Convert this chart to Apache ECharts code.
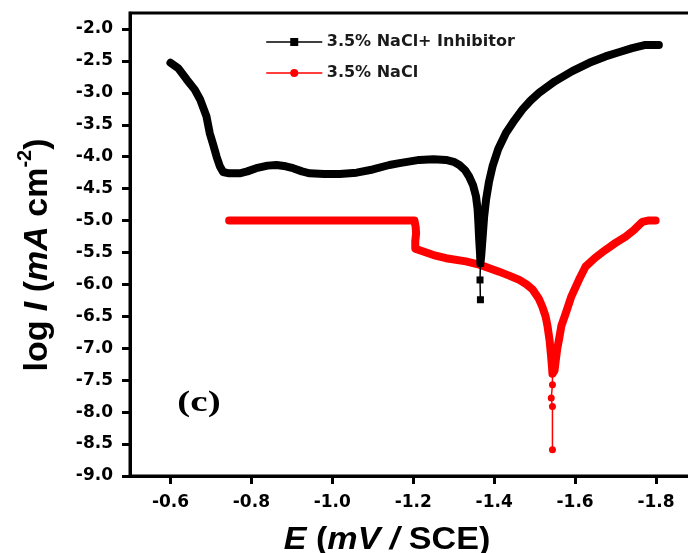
<!DOCTYPE html>
<html>
<head>
<meta charset="utf-8">
<script src="https://cdn.jsdelivr.net/npm/echarts@6/dist/echarts.min.js"></script>
<style>
html,body{margin:0;padding:0;background:#fff;}
#chart{width:688px;height:553px;}
</style>
</head>
<body>
<div id="chart"></div>
<script>
// ---- data (E in V vs SCE, log I) ----
const seriesNames = ['3.5% NaCl+ Inhibitor', '3.5% NaCl'];
const xTicks = [-0.6, -0.8, -1.0, -1.2, -1.4, -1.6, -1.8];
const yTicks = [-9.0, -8.5, -8.0, -7.5, -7.0, -6.5, -6.0, -5.5, -5.0, -4.5, -4.0, -3.5, -3.0, -2.5, -2.0];

const inhibitorLeft = [
  [-0.600,-2.53],[-0.620,-2.62],[-0.640,-2.79],[-0.660,-2.95],[-0.673,-3.10],[-0.689,-3.37],
  [-0.697,-3.63],[-0.705,-3.80],[-0.714,-4.00],[-0.722,-4.15],[-0.730,-4.24],[-0.745,-4.26],
  [-0.771,-4.26],[-0.790,-4.23],[-0.812,-4.18],[-0.840,-4.14],[-0.862,-4.13],[-0.885,-4.15],
  [-0.903,-4.18],[-0.925,-4.23],[-0.944,-4.26],[-0.980,-4.27],[-1.018,-4.27],[-1.060,-4.25],
  [-1.100,-4.20],[-1.141,-4.13],[-1.166,-4.10],[-1.215,-4.05],[-1.250,-4.04],[-1.281,-4.05],
  [-1.300,-4.08],[-1.314,-4.13],[-1.328,-4.21],[-1.338,-4.31],[-1.348,-4.45],[-1.355,-4.62],
  [-1.359,-4.82],[-1.361,-5.04],[-1.363,-5.30],[-1.365,-5.51],[-1.366,-5.67]
];
const inhibitorTail = [[-1.366,-5.67],[-1.365,-5.93],[-1.366,-6.24]];
const inhibitorRight = [
  [-1.368,-5.55],[-1.371,-5.30],[-1.375,-4.95],[-1.380,-4.67],[-1.387,-4.40],[-1.396,-4.15],
  [-1.410,-3.88],[-1.429,-3.63],[-1.450,-3.43],[-1.470,-3.26],[-1.490,-3.12],[-1.511,-3.00],
  [-1.550,-2.82],[-1.593,-2.66],[-1.635,-2.53],[-1.675,-2.43],[-1.710,-2.36],[-1.741,-2.30],
  [-1.774,-2.25],[-1.807,-2.25]
];

const naclLeft = [
  [-0.745,-5.00],[-0.800,-5.00],[-0.900,-5.00],[-1.000,-5.00],[-1.100,-5.00],[-1.203,-5.00],
  [-1.206,-5.10],[-1.207,-5.20],[-1.205,-5.32],[-1.205,-5.44],[-1.223,-5.48],[-1.250,-5.54],
  [-1.281,-5.59],[-1.330,-5.64],[-1.363,-5.69],[-1.390,-5.75],[-1.412,-5.80],[-1.440,-5.87],
  [-1.462,-5.93],[-1.480,-6.00],[-1.495,-6.08],[-1.510,-6.22],[-1.519,-6.35],[-1.527,-6.50],
  [-1.532,-6.66],[-1.537,-6.88],[-1.540,-7.08],[-1.543,-7.30],[-1.544,-7.40]
];
const naclTail = [[-1.544,-7.40],[-1.544,-7.57],[-1.541,-7.78],[-1.544,-7.91],[-1.544,-8.59]];
const naclRight = [
  [-1.549,-7.35],[-1.552,-7.20],[-1.556,-7.00],[-1.560,-6.87],[-1.566,-6.65],[-1.577,-6.45],
  [-1.590,-6.20],[-1.610,-5.92],[-1.626,-5.72],[-1.650,-5.58],[-1.675,-5.46],[-1.700,-5.35],
  [-1.725,-5.25],[-1.745,-5.15],[-1.766,-5.02],[-1.780,-5.00],[-1.799,-5.00]
];

const chart = echarts.init(document.getElementById('chart'), null, {renderer: 'canvas'});

const labelFont = {fontFamily: 'DejaVu Sans', fontWeight: 'bold', fontSize: 17, color: '#000'};

const option = {
  animation: false,
  backgroundColor: '#fff',
  grid: {left: 130, top: 13, width: 566.5, height: 463, show: true, borderColor: '#000', borderWidth: 3,
         containLabel: false, outerBoundsMode: 'none'},
  legend: {
    orient: 'vertical', left: 261, top: 29, itemWidth: 55, itemHeight: 10, itemGap: 15,
    data: seriesNames,
    lineStyle: {width: 1.5},
    textStyle: {fontFamily: 'DejaVu Sans', fontSize: 16, fontWeight: 'bold', color: '#1a1a1a'}
  },
  xAxis: {
    type: 'value', min: -1.9, max: -0.5, inverse: true,
    axisLine: {show: true, onZero: false, lineStyle: {color: '#000', width: 3}},
    axisTick: {show: true, customValues: xTicks, length: 8, lineStyle: {color: '#000', width: 3}},
    axisLabel: Object.assign({customValues: xTicks, margin: 18, formatter: v => v.toFixed(1)}, labelFont),
    splitLine: {show: false}
  },
  yAxis: {
    type: 'value', min: -9, max: -1.75,
    axisLine: {show: true, onZero: false, lineStyle: {color: '#000', width: 3}},
    axisTick: {show: true, customValues: yTicks, length: 8, lineStyle: {color: '#000', width: 3}},
    axisLabel: Object.assign({customValues: yTicks, margin: 17, formatter: v => v.toFixed(1)}, labelFont),
    splitLine: {show: false}
  },
  series: [
    {name: seriesNames[1], type: 'line', data: naclLeft.concat(naclRight), symbol: 'circle', showSymbol: false, z: 2,
     lineStyle: {color: '#ff0000', width: 8, cap: 'round', join: 'round'}, itemStyle: {color: '#ff0000'}},
    {name: seriesNames[1], type: 'line', data: naclTail, symbol: 'circle', symbolSize: 7, showSymbol: true, z: 2,
     lineStyle: {color: '#ff0000', width: 1.5}, itemStyle: {color: '#ff0000'}},
    {name: seriesNames[0], type: 'line', data: inhibitorLeft.concat(inhibitorRight), symbol: 'rect', showSymbol: false, z: 3,
     lineStyle: {color: '#000', width: 8, cap: 'round', join: 'round'}, itemStyle: {color: '#000'}},
    {name: seriesNames[0], type: 'line', data: inhibitorTail, symbol: 'rect', symbolSize: 7, showSymbol: true, z: 3,
     lineStyle: {color: '#000', width: 1.5}, itemStyle: {color: '#000'}}
  ],
  graphic: [
    {type: 'text', x: 35, y: 255, rotation: Math.PI / 2,
     style: {text: '{b|log }{bi|I}{b| (}{bi|mA}{b| cm}{sup|-2}{b|)}', align: 'center', verticalAlign: 'middle',
       rich: {
         b: {fontFamily: 'Liberation Sans', fontWeight: 'bold', fontSize: 34, lineHeight: 40, verticalAlign: 'bottom'},
         bi: {fontFamily: 'Liberation Sans', fontWeight: 'bold', fontStyle: 'italic', fontSize: 34, lineHeight: 40, verticalAlign: 'bottom'},
         sup: {fontFamily: 'Liberation Sans', fontWeight: 'bold', fontSize: 20, lineHeight: 40, verticalAlign: 'top'}
       }}},
    {type: 'text', x: 387, y: 540, scaleX: 1.1,
     style: {text: '{bi|E}{b| (}{bi|mV / }{b|SCE)}', align: 'center', verticalAlign: 'middle',
       rich: {
         b: {fontFamily: 'Liberation Sans', fontWeight: 'bold', fontSize: 31},
         bi: {fontFamily: 'Liberation Sans', fontWeight: 'bold', fontStyle: 'italic', fontSize: 31}
       }}},
    {type: 'text', x: 199, y: 403, scaleX: 1.3,
     style: {text: '(c)', fontFamily: 'Liberation Serif', fontWeight: 'bold', fontSize: 30, fill: '#000', align: 'center', verticalAlign: 'middle'}}
  ]
};
chart.setOption(option);
</script>
</body>
</html>
